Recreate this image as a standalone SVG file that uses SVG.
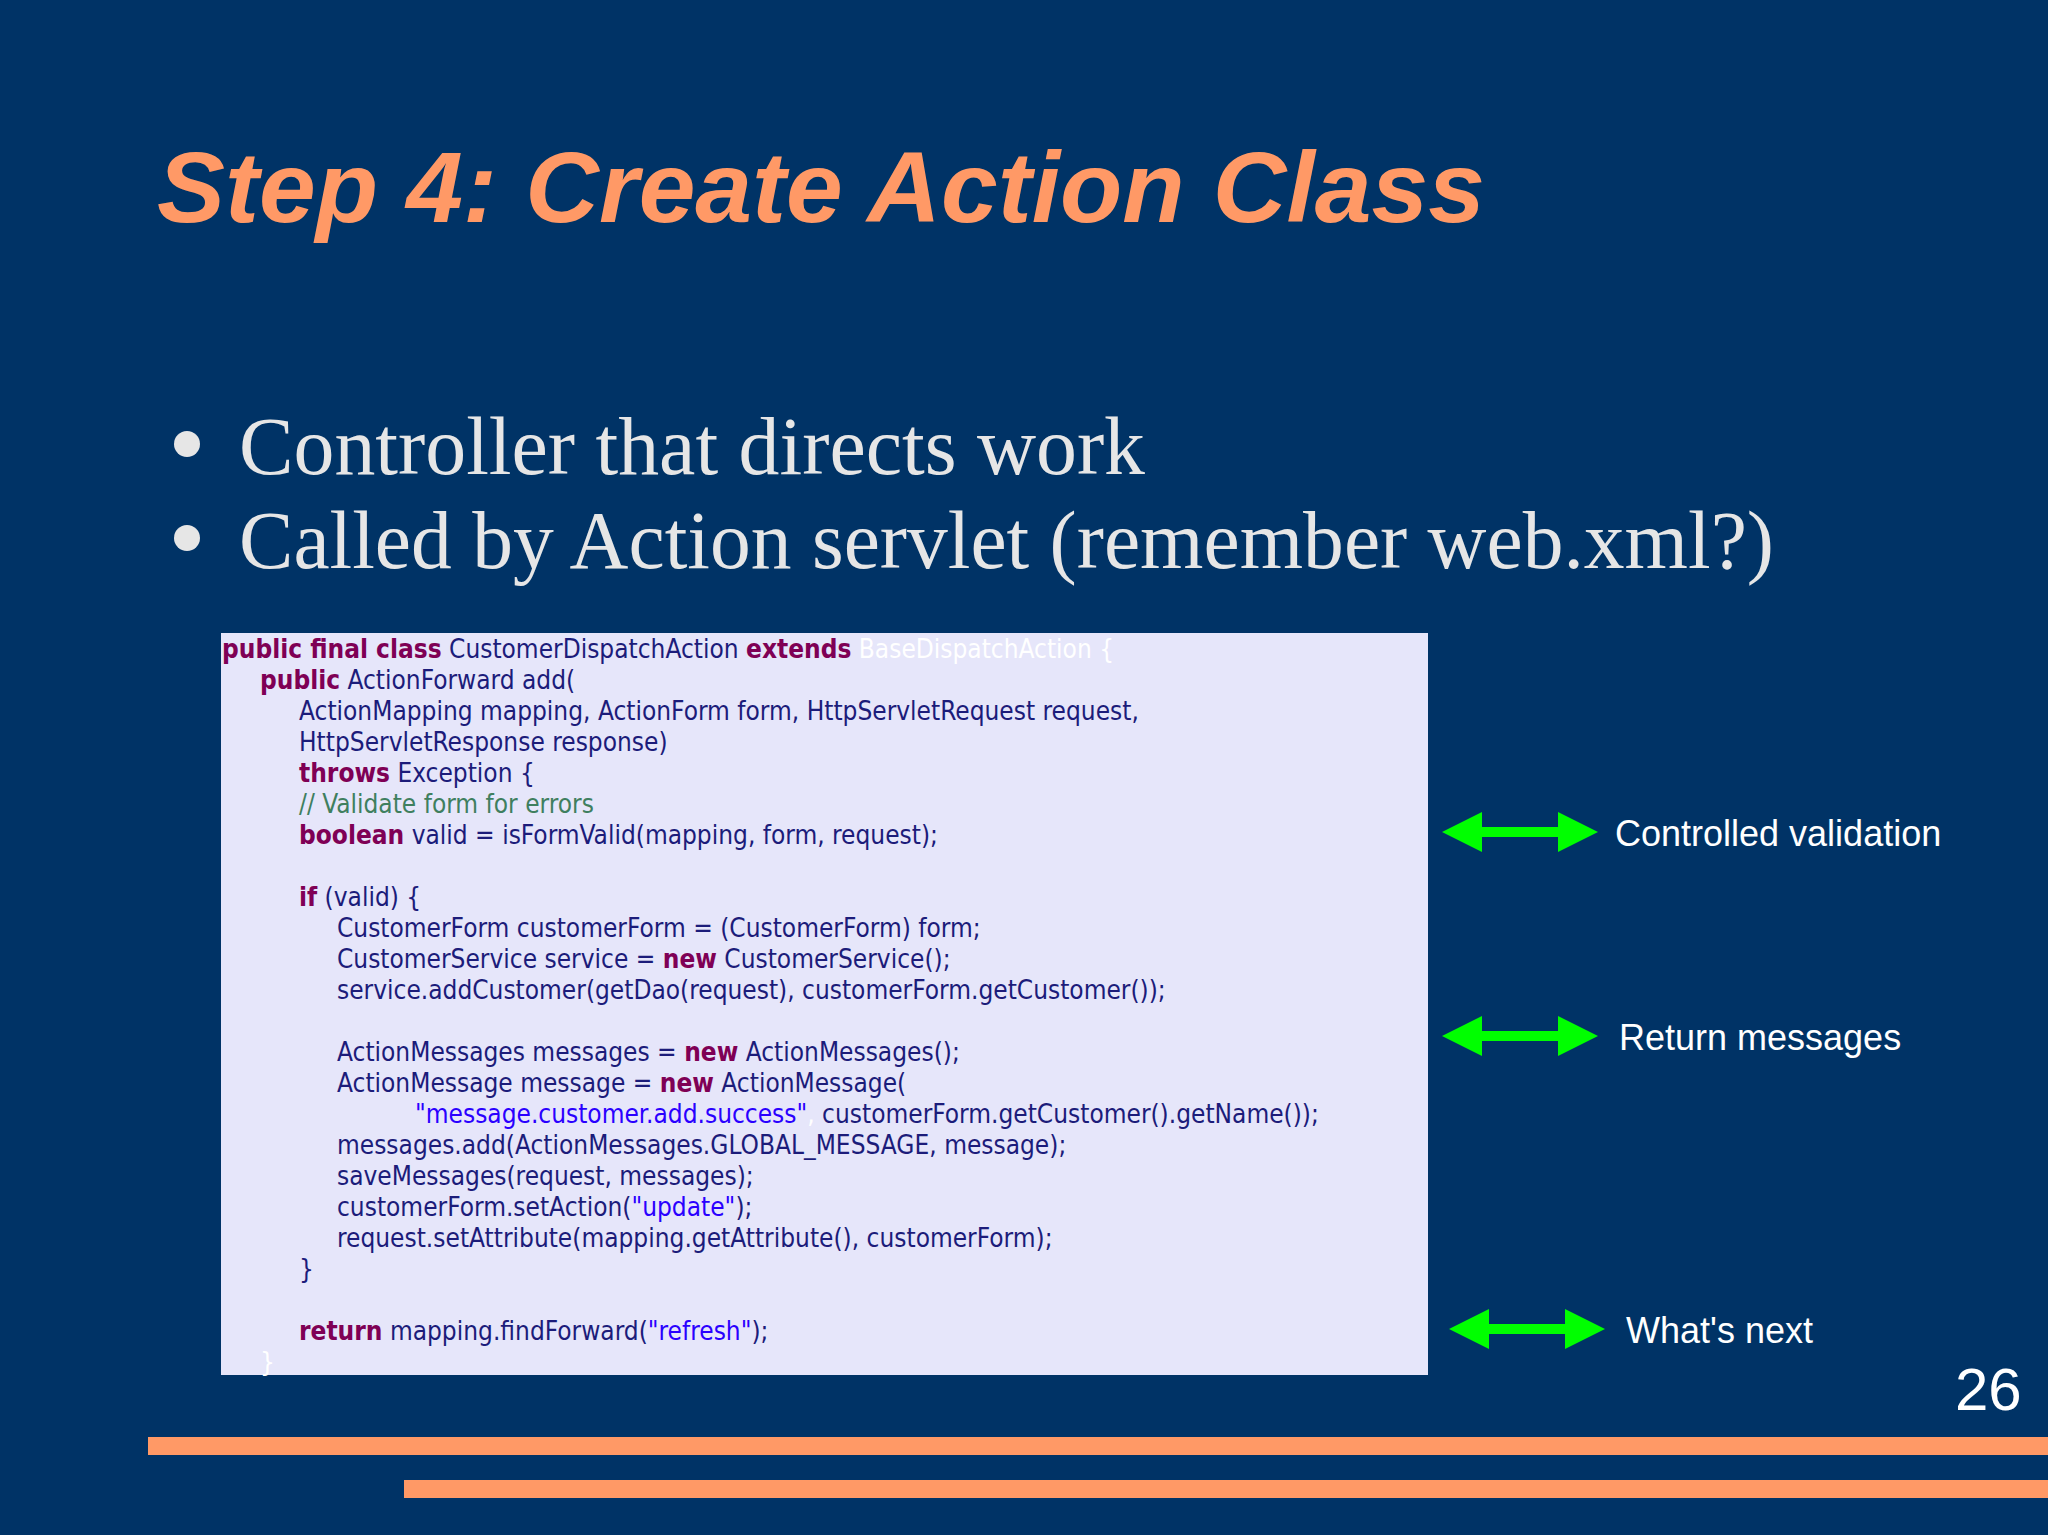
<svg xmlns="http://www.w3.org/2000/svg" width="2048" height="1535" viewBox="0 0 2048 1535">
<style>
.c{font-family:"DejaVu Sans Condensed","DejaVu Sans",sans-serif;font-size:26px;fill:#1c1c7a}
.k{font-weight:bold;fill:#7f0055}
.s{fill:#2a00ff}
.m{fill:#3f7f5f}
.w{fill:#ffffff}
.lab{font-family:"Liberation Sans",Arial,sans-serif;font-size:36px;fill:#ffffff}
.b{font-family:"Liberation Serif","Times New Roman",serif;font-size:82px;fill:#e6e6e6}
</style>
<defs>
<marker id="ah" markerWidth="4" markerHeight="4" refX="3" refY="2" orient="auto-start-reverse" markerUnits="strokeWidth"><path d="M0,0 L4,2 L0,4 z" fill="#00ff00"/></marker>
</defs>
<rect width="2048" height="1535" fill="#003366"/>
<text x="157" y="222" font-family="Liberation Sans,Arial,sans-serif" font-weight="bold" font-style="italic" font-size="100" fill="#ff9966" textLength="1328" lengthAdjust="spacingAndGlyphs">Step 4: Create Action Class</text>
<circle cx="187" cy="444" r="13" fill="#e6e6e6"/>
<circle cx="187" cy="538" r="13" fill="#e6e6e6"/>
<text class="b" x="239" y="474" textLength="906" lengthAdjust="spacingAndGlyphs">Controller that directs work</text>
<text class="b" x="239" y="568" textLength="1535" lengthAdjust="spacingAndGlyphs">Called by Action servlet (remember web.xml?)</text>
<g id="code">
<rect x="221" y="633" width="1207" height="742" fill="#e6e6fa"/>
<text class="c" x="222" y="658"><tspan class="k">public final class</tspan> CustomerDispatchAction <tspan class="k">extends</tspan> <tspan class="w">BaseDispatchAction {</tspan></text>
<text class="c" x="260" y="689"><tspan class="k">public</tspan> ActionForward add(</text>
<text class="c" x="299" y="720">ActionMapping mapping, ActionForm form, HttpServletRequest request,</text>
<text class="c" x="299" y="751">HttpServletResponse response)</text>
<text class="c" x="299" y="782"><tspan class="k">throws</tspan> Exception {</text>
<text class="c m" x="299" y="813">// Validate form for errors</text>
<text class="c" x="299" y="844"><tspan class="k">boolean</tspan> valid = isFormValid(mapping, form, request);</text>
<text class="c" x="299" y="906"><tspan class="k">if</tspan> (valid) {</text>
<text class="c" x="337" y="937">CustomerForm customerForm = (CustomerForm) form;</text>
<text class="c" x="337" y="968">CustomerService service = <tspan class="k">new</tspan> CustomerService();</text>
<text class="c" x="337" y="999">service.addCustomer(getDao(request), customerForm.getCustomer());</text>
<text class="c" x="337" y="1061">ActionMessages messages = <tspan class="k">new</tspan> ActionMessages();</text>
<text class="c" x="337" y="1092">ActionMessage message = <tspan class="k">new</tspan> ActionMessage(</text>
<text class="c" x="415" y="1123"><tspan class="s">"message.customer.add.success"</tspan><tspan class="w">,</tspan> customerForm.getCustomer().getName());</text>
<text class="c" x="337" y="1154">messages.add(ActionMessages.GLOBAL_MESSAGE, message);</text>
<text class="c" x="337" y="1185">saveMessages(request, messages);</text>
<text class="c" x="337" y="1216">customerForm.setAction(<tspan class="s">"update"</tspan>);</text>
<text class="c" x="337" y="1247">request.setAttribute(mapping.getAttribute(), customerForm);</text>
<text class="c" x="299" y="1278">}</text>
<text class="c" x="299" y="1340"><tspan class="k">return</tspan> mapping.findForward(<tspan class="s">"refresh"</tspan>);</text>
<text class="c w" x="260" y="1371">}</text>
</g>
<g id="connectors" stroke="#00ff00" stroke-width="10" marker-start="url(#ah)" marker-end="url(#ah)">
<line x1="1452" y1="832" x2="1588" y2="832"/>
<line x1="1452" y1="1036" x2="1588" y2="1036"/>
<line x1="1459" y1="1329" x2="1595" y2="1329"/>
</g>
<g id="labels">
<text class="lab" x="1615" y="846">Controlled validation</text>
<text class="lab" x="1619" y="1050">Return messages</text>
<text class="lab" x="1626" y="1343">What's next</text>
</g>
<text x="1955" y="1410" font-family="Liberation Sans,Arial,sans-serif" font-size="60" fill="#ffffff">26</text>
<rect x="148" y="1437" width="1900" height="18" fill="#ff9966"/>
<rect x="404" y="1480" width="1644" height="18" fill="#ff9966"/>
</svg>
